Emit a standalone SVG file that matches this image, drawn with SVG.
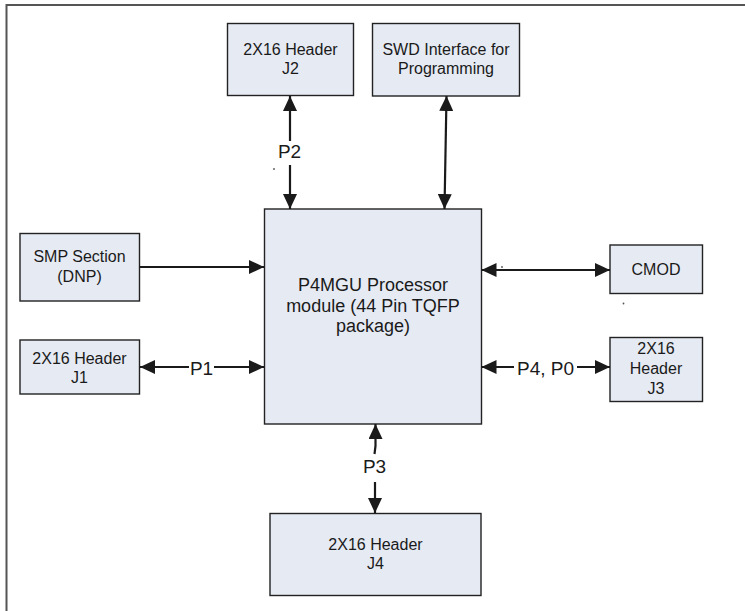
<svg xmlns="http://www.w3.org/2000/svg" width="745" height="611" viewBox="0 0 745 611">
<style>
.box{fill:#e6eaf3;stroke:#222;stroke-width:1.4}
.t{font-family:"Liberation Sans",Arial,sans-serif;font-size:16px;fill:#1a1a1a;text-anchor:middle}
.big{font-size:18px}
.lbl{font-size:19px}
.c{stroke:#1a1a1a;stroke-width:2.2;fill:none}
.frame{stroke:#555;stroke-width:2;fill:none}
</style>
<defs>
<marker id="ah" viewBox="0 0 15 14" refX="15" refY="7" markerWidth="15" markerHeight="14" markerUnits="userSpaceOnUse" orient="auto-start-reverse">
<path d="M0,0 L15,7 L0,14 z" fill="#1a1a1a"/>
</marker>
</defs>
<path class="frame" d="M6.5,611 L6.5,5 L745,5"/>
<g id="j2"><rect class="box" x="227.5" y="23.5" width="126" height="72"/><text class="t" x="290.5" y="55">2X16 Header</text><text class="t" x="290.5" y="73.5">J2</text></g>
<g id="swd"><rect class="box" x="372.5" y="23.5" width="147" height="72.5"/><text class="t" x="446" y="55" font-size="15">SWD Interface for</text><text class="t" x="446" y="73.5" font-size="15">Programming</text></g>
<g id="proc"><rect class="box" x="264.5" y="209" width="217" height="215"/><text class="t big" x="373" y="291">P4MGU Processor</text><text class="t big" x="373" y="311.5">module (44 Pin TQFP</text><text class="t big" x="373" y="332">package)</text></g>
<g id="smp"><rect class="box" x="20" y="233.5" width="119.5" height="67.5"/><text class="t" x="79.5" y="261.5">SMP Section</text><text class="t" x="79.5" y="281.5">(DNP)</text></g>
<g id="j1"><rect class="box" x="20" y="340" width="119.5" height="54"/><text class="t" x="79.5" y="363.5">2X16 Header</text><text class="t" x="79.5" y="382.5">J1</text></g>
<g id="cmod"><rect class="box" x="610" y="245" width="92.5" height="48.5"/><text class="t" x="656" y="274.5">CMOD</text></g>
<g id="j3"><rect class="box" x="610" y="337.5" width="92.5" height="64"/><text class="t" x="656" y="354">2X16</text><text class="t" x="656" y="374">Header</text><text class="t" x="656" y="394">J3</text></g>
<g id="j4"><rect class="box" x="270" y="513.5" width="211" height="82"/><text class="t" x="375.5" y="550">2X16 Header</text><text class="t" x="375.5" y="568.5">J4</text></g>
<g id="connectors">
<line class="c" x1="290" y1="96" x2="290" y2="141" marker-start="url(#ah)"/>
<line class="c" x1="290" y1="165" x2="290" y2="209" marker-end="url(#ah)"/>
<text class="t lbl" x="289.5" y="158">P2</text>
<line class="c" x1="446.5" y1="96" x2="444.5" y2="209" marker-start="url(#ah)" marker-end="url(#ah)"/>
<line class="c" x1="139.5" y1="267" x2="264" y2="267" marker-end="url(#ah)"/>
<line class="c" x1="481.5" y1="270" x2="610" y2="270" marker-start="url(#ah)" marker-end="url(#ah)"/>
<line class="c" x1="140" y1="367" x2="189" y2="367" marker-start="url(#ah)"/>
<line class="c" x1="214" y1="367" x2="264" y2="367" marker-end="url(#ah)"/>
<text class="t lbl" x="201.5" y="374.5">P1</text>
<line class="c" x1="481.5" y1="367" x2="514" y2="367" marker-start="url(#ah)"/>
<line class="c" x1="577" y1="367" x2="610" y2="367" marker-end="url(#ah)"/>
<text class="t lbl" x="545.5" y="375">P4, P0</text>
<polyline class="c" points="375.5,424 375.5,446 374.5,454" marker-start="url(#ah)"/>
<line class="c" x1="375" y1="482" x2="375" y2="513" marker-end="url(#ah)"/>
<text class="t lbl" x="374.5" y="473">P3</text>
<circle cx="274" cy="169" r="0.9" fill="#555"/>
<circle cx="502" cy="267" r="0.9" fill="#555"/>
<circle cx="623.5" cy="303.5" r="0.9" fill="#555"/>
</g>
</svg>
